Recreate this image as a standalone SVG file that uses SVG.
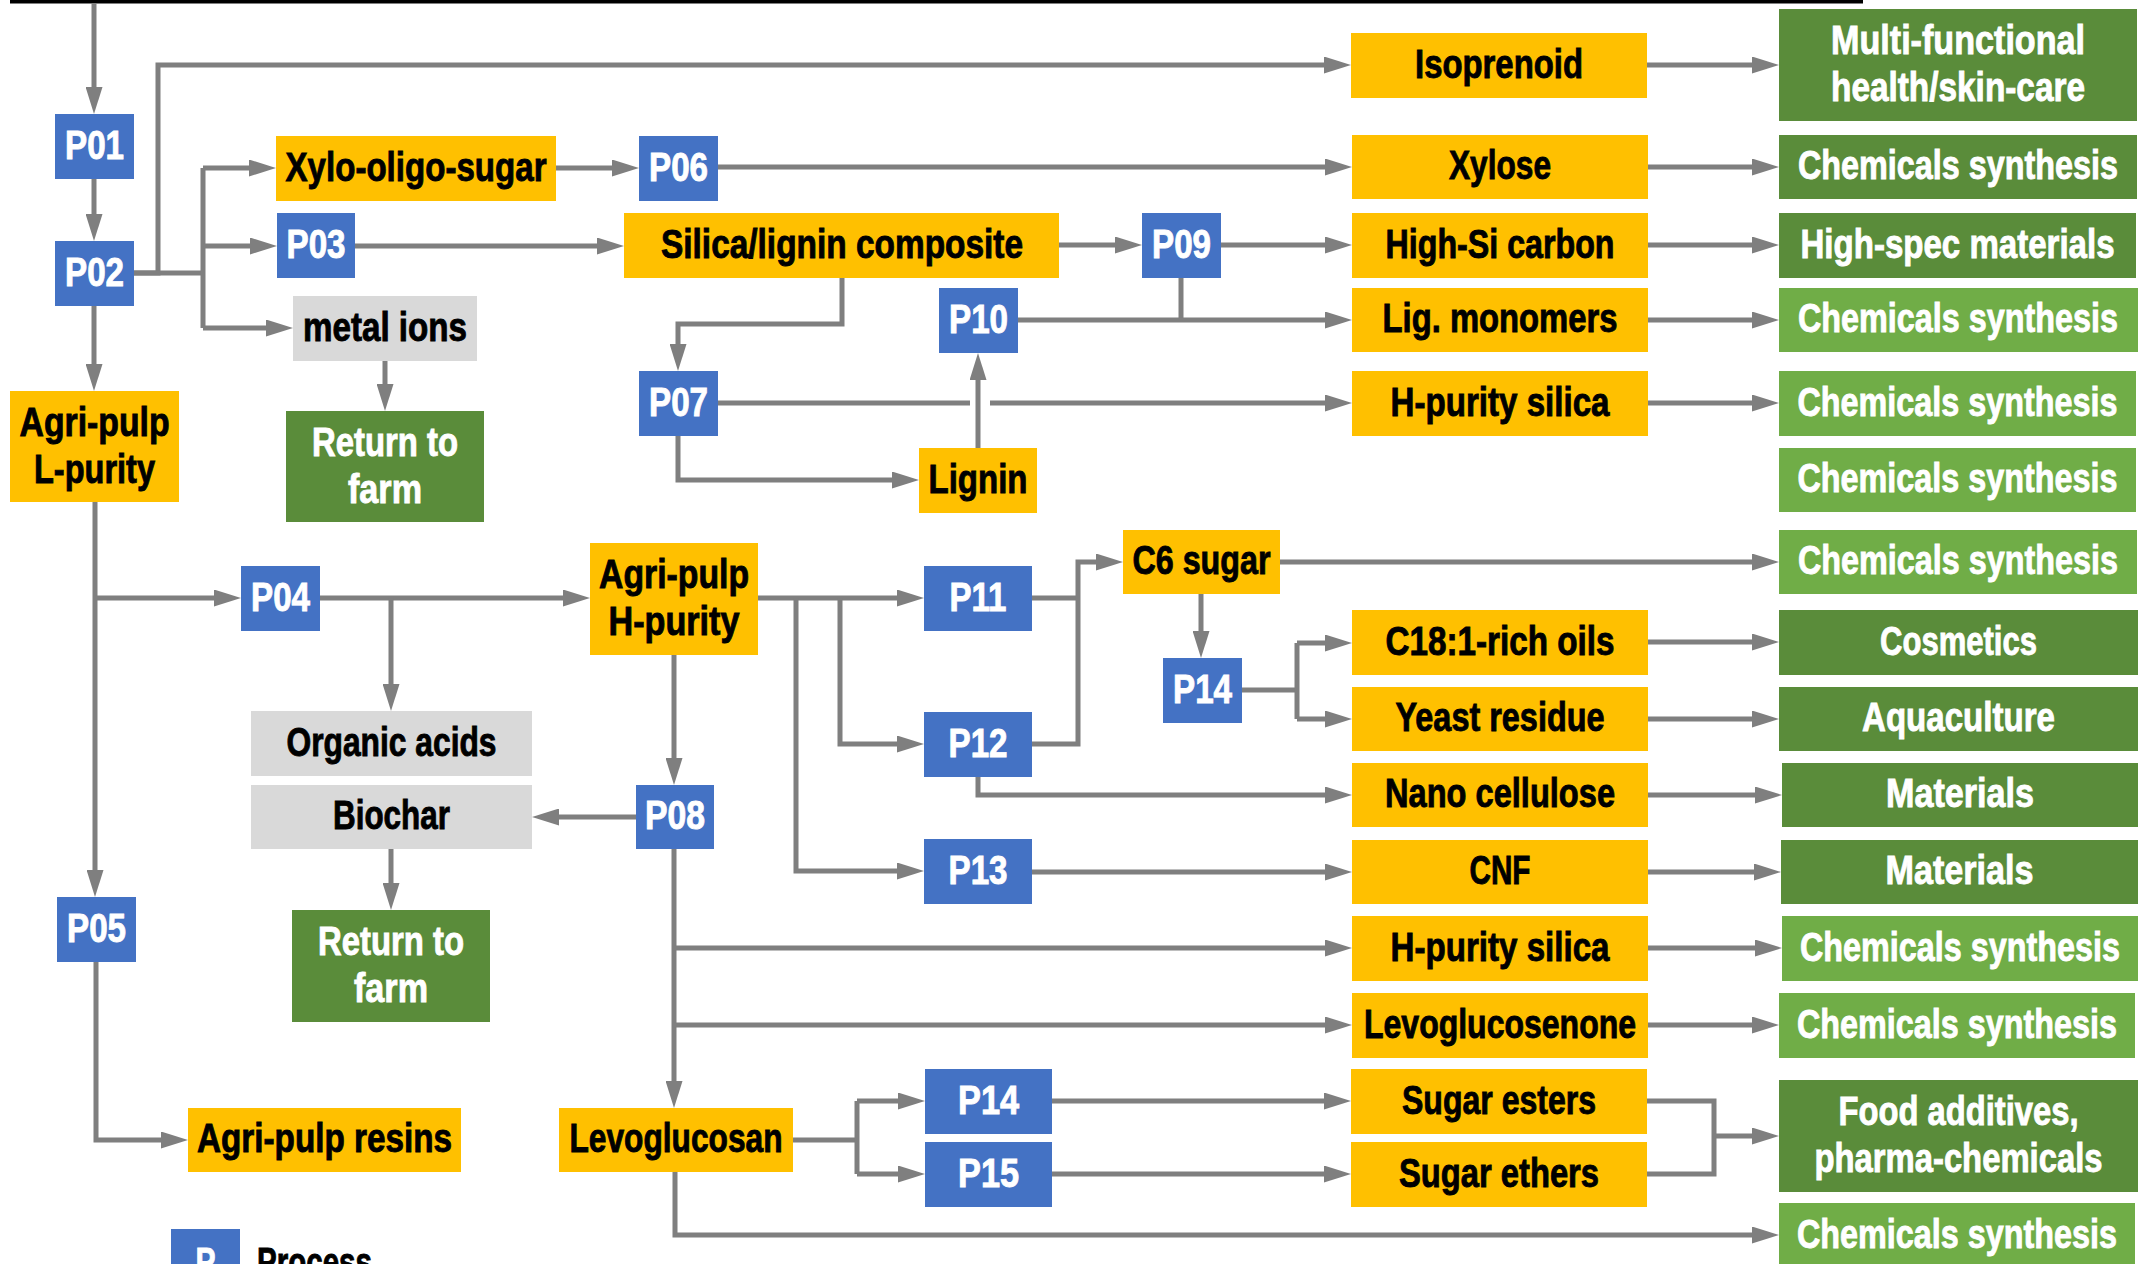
<svg xmlns="http://www.w3.org/2000/svg" width="2148" height="1264" viewBox="0 0 2148 1264">
<style>
.bl{fill:#4472C4}.ye{fill:#FFC000}.dg{fill:#5A8C3A}.lg{fill:#70AD47}.gr{fill:#D9D9D9}
text{font-family:"Liberation Sans",Arial,sans-serif;font-weight:bold;font-size:40px;text-anchor:middle}
.w{fill:#FFFFFF;stroke:#FFFFFF;stroke-width:0.9}.k{fill:#000000;stroke:#000000;stroke-width:0.9}
.c path{fill:none;stroke:#7F7F7F;stroke-width:5}
.c .a{marker-end:url(#ah)}
</style>
<defs>
<marker id="ah" markerUnits="userSpaceOnUse" markerWidth="27" markerHeight="17" viewBox="0 0 27 17" refX="7" refY="8.5" orient="auto">
<path d="M0,0 L27,8.5 L0,17 z" fill="#7F7F7F"/>
</marker>
</defs>
<rect x="0" y="0" width="2148" height="1264" fill="#FFFFFF"/>
<rect x="10" y="0" width="1853" height="3.5" fill="#000000"/>
<g id="connectors" class="c">
<path class="a" d="M94,3 V94"/>
<path class="a" d="M94,179 V221"/>
<path class="a" d="M134,273 H158 V65 H1331"/>
<path d="M134,273 H203"/>
<path d="M203,168 V328"/>
<path class="a" d="M203,168 H256"/>
<path class="a" d="M203,246 H257"/>
<path class="a" d="M203,328 H273"/>
<path class="a" d="M385,361 V391"/>
<path class="a" d="M94,306 V371"/>
<path class="a" d="M556,168 H619"/>
<path class="a" d="M718,167 H1332"/>
<path class="a" d="M355,246 H604"/>
<path class="a" d="M1059,245 H1122"/>
<path class="a" d="M1221,245 H1332"/>
<path d="M1181,278 V320"/>
<path class="a" d="M1018,320 H1332"/>
<path class="a" d="M842,278 V324 H678 V351"/>
<path d="M718,403 H970"/>
<path class="a" d="M990,403 H1332"/>
<path class="a" d="M678,436 V480 H899"/>
<path class="a" d="M978,448 V373"/>
<path class="a" d="M1647,65 H1759"/>
<path class="a" d="M1648,167 H1759"/>
<path class="a" d="M1648,245 H1759"/>
<path class="a" d="M1648,320 H1759"/>
<path class="a" d="M1648,403 H1759"/>
<path class="a" d="M1648,642 H1759"/>
<path class="a" d="M1648,719 H1759"/>
<path class="a" d="M1648,795 H1762"/>
<path class="a" d="M1648,872 H1761"/>
<path class="a" d="M1648,948 H1762"/>
<path class="a" d="M1648,1025 H1759"/>
<path class="a" d="M95,502 V877"/>
<path class="a" d="M95,598 H221"/>
<path class="a" d="M320,598 H570"/>
<path class="a" d="M391,598 V691"/>
<path class="a" d="M636,817 H552"/>
<path class="a" d="M391,849 V890"/>
<path class="a" d="M96,962 V1140 H168"/>
<path class="a" d="M674,655 V765"/>
<path class="a" d="M758,598 H904"/>
<path class="a" d="M840,598 V744 H904"/>
<path class="a" d="M796,598 V871 H904"/>
<path d="M1032,598 H1078"/>
<path class="a" d="M1032,744 H1078 V562 H1103"/>
<path class="a" d="M1280,562 H1759"/>
<path class="a" d="M1201,594 V638"/>
<path d="M1242,690 H1297"/>
<path d="M1297,643 V719"/>
<path class="a" d="M1297,643 H1332"/>
<path class="a" d="M1297,719 H1332"/>
<path class="a" d="M978,777 V795 H1332"/>
<path class="a" d="M1032,872 H1332"/>
<path class="a" d="M674,849 V1088"/>
<path class="a" d="M674,948 H1332"/>
<path class="a" d="M674,1025 H1332"/>
<path d="M793,1140 H857"/>
<path d="M857,1101 V1174"/>
<path class="a" d="M857,1101 H905"/>
<path class="a" d="M857,1174 H905"/>
<path class="a" d="M1052,1101 H1331"/>
<path class="a" d="M1052,1174 H1331"/>
<path d="M1647,1101 H1714 V1174 H1647"/>
<path class="a" d="M1714,1136 H1759"/>
<path class="a" d="M675,1172 V1235 H1759"/>
</g>
<g id="P01"><rect class="bl" x="55" y="114" width="79" height="65"/><text class="w" transform="translate(94.5,158.5) scale(.75,1)" textLength="78.7" lengthAdjust="spacingAndGlyphs">P01</text></g>
<g id="P02"><rect class="bl" x="55" y="241" width="79" height="65"/><text class="w" transform="translate(94.5,285.5) scale(.75,1)" textLength="78.7" lengthAdjust="spacingAndGlyphs">P02</text></g>
<g id="P03"><rect class="bl" x="277" y="213" width="78" height="65"/><text class="w" transform="translate(316,257.5) scale(.75,1)" textLength="78.7" lengthAdjust="spacingAndGlyphs">P03</text></g>
<g id="P04"><rect class="bl" x="241" y="566" width="79" height="65"/><text class="w" transform="translate(280.5,610.5) scale(.75,1)" textLength="78.7" lengthAdjust="spacingAndGlyphs">P04</text></g>
<g id="P05"><rect class="bl" x="57" y="897" width="79" height="65"/><text class="w" transform="translate(96.5,941.5) scale(.75,1)" textLength="78.7" lengthAdjust="spacingAndGlyphs">P05</text></g>
<g id="P06"><rect class="bl" x="639" y="136" width="79" height="65"/><text class="w" transform="translate(678.5,180.5) scale(.75,1)" textLength="78.7" lengthAdjust="spacingAndGlyphs">P06</text></g>
<g id="P07"><rect class="bl" x="639" y="371" width="79" height="65"/><text class="w" transform="translate(678.5,415.5) scale(.75,1)" textLength="78.7" lengthAdjust="spacingAndGlyphs">P07</text></g>
<g id="P08"><rect class="bl" x="636" y="785" width="78" height="64"/><text class="w" transform="translate(675,829) scale(.75,1)" textLength="80" lengthAdjust="spacingAndGlyphs">P08</text></g>
<g id="P09"><rect class="bl" x="1142" y="213" width="79" height="65"/><text class="w" transform="translate(1181.5,257.5) scale(.75,1)" textLength="78.7" lengthAdjust="spacingAndGlyphs">P09</text></g>
<g id="P10"><rect class="bl" x="939" y="288" width="79" height="65"/><text class="w" transform="translate(978.5,332.5) scale(.75,1)" textLength="78.7" lengthAdjust="spacingAndGlyphs">P10</text></g>
<g id="P11"><rect class="bl" x="924" y="566" width="108" height="65"/><text class="w" transform="translate(978,610.5) scale(.75,1)" textLength="76" lengthAdjust="spacingAndGlyphs">P11</text></g>
<g id="P12"><rect class="bl" x="924" y="712" width="108" height="65"/><text class="w" transform="translate(978,756.5) scale(.75,1)" textLength="78.7" lengthAdjust="spacingAndGlyphs">P12</text></g>
<g id="P13"><rect class="bl" x="924" y="839" width="108" height="65"/><text class="w" transform="translate(978,883.5) scale(.75,1)" textLength="78.7" lengthAdjust="spacingAndGlyphs">P13</text></g>
<g id="P14a"><rect class="bl" x="1163" y="658" width="79" height="65"/><text class="w" transform="translate(1202.5,702.5) scale(.75,1)" textLength="78.7" lengthAdjust="spacingAndGlyphs">P14</text></g>
<g id="P14b"><rect class="bl" x="925" y="1069" width="127" height="65"/><text class="w" transform="translate(988.5,1113.5) scale(.75,1)" textLength="81.3" lengthAdjust="spacingAndGlyphs">P14</text></g>
<g id="P15"><rect class="bl" x="925" y="1142" width="127" height="65"/><text class="w" transform="translate(988.5,1186.5) scale(.75,1)" textLength="81.3" lengthAdjust="spacingAndGlyphs">P15</text></g>
<g id="xylo-oligo-sugar"><rect class="ye" x="276" y="136" width="280" height="65"/><text class="k" transform="translate(416,180.5) scale(.75,1)" textLength="348" lengthAdjust="spacingAndGlyphs">Xylo-oligo-sugar</text></g>
<g id="metal-ions"><rect class="gr" x="293" y="296" width="184" height="65"/><text class="k" transform="translate(385,340.5) scale(.75,1)" textLength="218.7" lengthAdjust="spacingAndGlyphs">metal ions</text></g>
<g id="return-farm-1"><rect class="dg" x="286" y="411" width="198" height="111"/><text class="w" transform="translate(385,455.5) scale(.75,1)" textLength="194.7" lengthAdjust="spacingAndGlyphs">Return to</text><text class="w" transform="translate(385,502.5) scale(.75,1)" textLength="98.7" lengthAdjust="spacingAndGlyphs">farm</text></g>
<g id="agri-pulp-l"><rect class="ye" x="10" y="391" width="169" height="111"/><text class="k" transform="translate(94.5,435.5) scale(.75,1)" textLength="200" lengthAdjust="spacingAndGlyphs">Agri-pulp</text><text class="k" transform="translate(94.5,482.5) scale(.75,1)" textLength="161.3" lengthAdjust="spacingAndGlyphs">L-purity</text></g>
<g id="silica-lignin"><rect class="ye" x="624" y="213" width="435" height="65"/><text class="k" transform="translate(842,257.5) scale(.75,1)" textLength="482.7" lengthAdjust="spacingAndGlyphs">Silica/lignin composite</text></g>
<g id="lignin"><rect class="ye" x="919" y="448" width="118" height="65"/><text class="k" transform="translate(978,492.5) scale(.75,1)" textLength="132" lengthAdjust="spacingAndGlyphs">Lignin</text></g>
<g id="isoprenoid"><rect class="ye" x="1351" y="33" width="296" height="65"/><text class="k" transform="translate(1499,77.5) scale(.75,1)" textLength="224" lengthAdjust="spacingAndGlyphs">Isoprenoid</text></g>
<g id="xylose"><rect class="ye" x="1352" y="135" width="296" height="64"/><text class="k" transform="translate(1500,179) scale(.75,1)" textLength="136" lengthAdjust="spacingAndGlyphs">Xylose</text></g>
<g id="high-si-carbon"><rect class="ye" x="1352" y="213" width="296" height="65"/><text class="k" transform="translate(1500,257.5) scale(.75,1)" textLength="305.3" lengthAdjust="spacingAndGlyphs">High-Si carbon</text></g>
<g id="lig-monomers"><rect class="ye" x="1352" y="288" width="296" height="64"/><text class="k" transform="translate(1500,332) scale(.75,1)" textLength="313.3" lengthAdjust="spacingAndGlyphs">Lig. monomers</text></g>
<g id="h-purity-silica-1"><rect class="ye" x="1352" y="371" width="296" height="65"/><text class="k" transform="translate(1500,415.5) scale(.75,1)" textLength="292" lengthAdjust="spacingAndGlyphs">H-purity silica</text></g>
<g id="multi-functional"><rect class="dg" x="1779" y="9" width="358" height="112"/><text class="w" transform="translate(1958,54) scale(.75,1)" textLength="338.7" lengthAdjust="spacingAndGlyphs">Multi-functional</text><text class="w" transform="translate(1958,101) scale(.75,1)" textLength="338.7" lengthAdjust="spacingAndGlyphs">health/skin-care</text></g>
<g id="chem-1"><rect class="dg" x="1779" y="135" width="358" height="64"/><text class="w" transform="translate(1958,179) scale(.75,1)" textLength="426.7" lengthAdjust="spacingAndGlyphs">Chemicals synthesis</text></g>
<g id="high-spec"><rect class="dg" x="1779" y="213" width="357" height="65"/><text class="w" transform="translate(1957.5,257.5) scale(.75,1)" textLength="418.7" lengthAdjust="spacingAndGlyphs">High-spec materials</text></g>
<g id="chem-2"><rect class="lg" x="1779" y="288" width="359" height="64"/><text class="w" transform="translate(1958,332) scale(.75,1)" textLength="426.7" lengthAdjust="spacingAndGlyphs">Chemicals synthesis</text></g>
<g id="chem-3"><rect class="lg" x="1779" y="371" width="357" height="65"/><text class="w" transform="translate(1957.5,415.5) scale(.75,1)" textLength="426.7" lengthAdjust="spacingAndGlyphs">Chemicals synthesis</text></g>
<g id="chem-4"><rect class="lg" x="1779" y="448" width="357" height="64"/><text class="w" transform="translate(1957.5,492) scale(.75,1)" textLength="426.7" lengthAdjust="spacingAndGlyphs">Chemicals synthesis</text></g>
<g id="chem-5"><rect class="lg" x="1779" y="530" width="358" height="64"/><text class="w" transform="translate(1958,574) scale(.75,1)" textLength="426.7" lengthAdjust="spacingAndGlyphs">Chemicals synthesis</text></g>
<g id="agri-pulp-h"><rect class="ye" x="590" y="543" width="168" height="112"/><text class="k" transform="translate(674,588) scale(.75,1)" textLength="200" lengthAdjust="spacingAndGlyphs">Agri-pulp</text><text class="k" transform="translate(674,635) scale(.75,1)" textLength="174.7" lengthAdjust="spacingAndGlyphs">H-purity</text></g>
<g id="organic-acids"><rect class="gr" x="251" y="711" width="281" height="65"/><text class="k" transform="translate(391.5,755.5) scale(.75,1)" textLength="280" lengthAdjust="spacingAndGlyphs">Organic acids</text></g>
<g id="biochar"><rect class="gr" x="251" y="785" width="281" height="64"/><text class="k" transform="translate(391.5,829) scale(.75,1)" textLength="156" lengthAdjust="spacingAndGlyphs">Biochar</text></g>
<g id="return-farm-2"><rect class="dg" x="292" y="910" width="198" height="112"/><text class="w" transform="translate(391,955) scale(.75,1)" textLength="194.7" lengthAdjust="spacingAndGlyphs">Return to</text><text class="w" transform="translate(391,1002) scale(.75,1)" textLength="98.7" lengthAdjust="spacingAndGlyphs">farm</text></g>
<g id="agri-pulp-resins"><rect class="ye" x="188" y="1108" width="273" height="64"/><text class="k" transform="translate(324.5,1152) scale(.75,1)" textLength="340" lengthAdjust="spacingAndGlyphs">Agri-pulp resins</text></g>
<g id="levoglucosan"><rect class="ye" x="559" y="1108" width="234" height="64"/><text class="k" transform="translate(676,1152) scale(.75,1)" textLength="284" lengthAdjust="spacingAndGlyphs">Levoglucosan</text></g>
<g id="c6-sugar"><rect class="ye" x="1123" y="530" width="157" height="64"/><text class="k" transform="translate(1201.5,574) scale(.75,1)" textLength="184" lengthAdjust="spacingAndGlyphs">C6 sugar</text></g>
<g id="c18-oils"><rect class="ye" x="1352" y="610" width="296" height="65"/><text class="k" transform="translate(1500,654.5) scale(.75,1)" textLength="305.3" lengthAdjust="spacingAndGlyphs">C18:1-rich oils</text></g>
<g id="yeast-residue"><rect class="ye" x="1352" y="687" width="296" height="64"/><text class="k" transform="translate(1500,731) scale(.75,1)" textLength="278.7" lengthAdjust="spacingAndGlyphs">Yeast residue</text></g>
<g id="nano-cellulose"><rect class="ye" x="1352" y="763" width="296" height="64"/><text class="k" transform="translate(1500,807) scale(.75,1)" textLength="306.7" lengthAdjust="spacingAndGlyphs">Nano cellulose</text></g>
<g id="cnf"><rect class="ye" x="1352" y="840" width="296" height="64"/><text class="k" transform="translate(1500,884) scale(.75,1)" textLength="81.3" lengthAdjust="spacingAndGlyphs">CNF</text></g>
<g id="h-purity-silica-2"><rect class="ye" x="1352" y="916" width="296" height="65"/><text class="k" transform="translate(1500,960.5) scale(.75,1)" textLength="292" lengthAdjust="spacingAndGlyphs">H-purity silica</text></g>
<g id="levoglucosenone"><rect class="ye" x="1352" y="993" width="296" height="65"/><text class="k" transform="translate(1500,1037.5) scale(.75,1)" textLength="362.7" lengthAdjust="spacingAndGlyphs">Levoglucosenone</text></g>
<g id="sugar-esters"><rect class="ye" x="1351" y="1069" width="296" height="65"/><text class="k" transform="translate(1499,1113.5) scale(.75,1)" textLength="258.7" lengthAdjust="spacingAndGlyphs">Sugar esters</text></g>
<g id="sugar-ethers"><rect class="ye" x="1351" y="1142" width="296" height="65"/><text class="k" transform="translate(1499,1186.5) scale(.75,1)" textLength="266.7" lengthAdjust="spacingAndGlyphs">Sugar ethers</text></g>
<g id="cosmetics"><rect class="dg" x="1779" y="610" width="359" height="65"/><text class="w" transform="translate(1958.5,654.5) scale(.75,1)" textLength="209.3" lengthAdjust="spacingAndGlyphs">Cosmetics</text></g>
<g id="aquaculture"><rect class="dg" x="1779" y="687" width="359" height="64"/><text class="w" transform="translate(1958.5,731) scale(.75,1)" textLength="257.3" lengthAdjust="spacingAndGlyphs">Aquaculture</text></g>
<g id="materials-1"><rect class="dg" x="1782" y="763" width="356" height="64"/><text class="w" transform="translate(1960,807) scale(.75,1)" textLength="197.3" lengthAdjust="spacingAndGlyphs">Materials</text></g>
<g id="materials-2"><rect class="dg" x="1781" y="840" width="357" height="64"/><text class="w" transform="translate(1959.5,884) scale(.75,1)" textLength="197.3" lengthAdjust="spacingAndGlyphs">Materials</text></g>
<g id="chem-6"><rect class="lg" x="1782" y="916" width="356" height="65"/><text class="w" transform="translate(1960,960.5) scale(.75,1)" textLength="426.7" lengthAdjust="spacingAndGlyphs">Chemicals synthesis</text></g>
<g id="chem-7"><rect class="lg" x="1779" y="993" width="356" height="65"/><text class="w" transform="translate(1957,1037.5) scale(.75,1)" textLength="426.7" lengthAdjust="spacingAndGlyphs">Chemicals synthesis</text></g>
<g id="food-additives"><rect class="dg" x="1779" y="1080" width="359" height="112"/><text class="w" transform="translate(1958.5,1125) scale(.75,1)" textLength="320" lengthAdjust="spacingAndGlyphs">Food additives,</text><text class="w" transform="translate(1958.5,1172) scale(.75,1)" textLength="384" lengthAdjust="spacingAndGlyphs">pharma-chemicals</text></g>
<g id="chem-8"><rect class="lg" x="1779" y="1203" width="356" height="65"/><text class="w" transform="translate(1957,1247.5) scale(.75,1)" textLength="426.7" lengthAdjust="spacingAndGlyphs">Chemicals synthesis</text></g>
<g id="legend"><rect class="bl" x="171" y="1229" width="69" height="45"/><text class="w" transform="translate(205.5,1276) scale(.75,1)" textLength="26.7" lengthAdjust="spacingAndGlyphs">P</text><text class="k" transform="translate(257,1276) scale(.75,1)" style="text-anchor:start" textLength="153.3" lengthAdjust="spacingAndGlyphs">Process</text></g>
</svg>
